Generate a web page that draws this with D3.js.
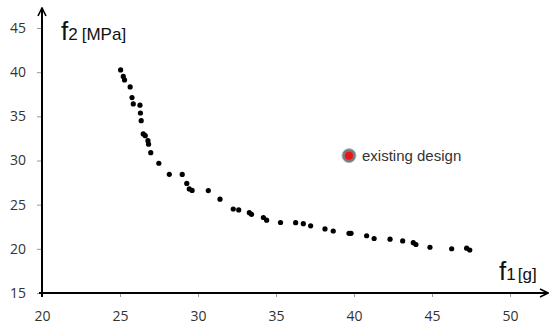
<!DOCTYPE html>
<html>
<head>
<meta charset="utf-8">
<script src="https://cdn.jsdelivr.net/npm/d3@7"></script>
<style>
  body { margin: 0; background: #fff; }
  svg text { font-family: "Liberation Sans", Arial, sans-serif; }
  svg .tick text { font-family: "Open Sans", "Liberation Sans", sans-serif; }
</style>
</head>
<body>
<div id="chart"></div>
<script>
// pareto front
const f1 = [25.04, 25.21, 25.29, 25.65, 25.77, 25.85, 26.28, 26.31, 26.36, 26.49,
            26.62, 26.79, 26.83, 26.97, 27.49, 28.16, 28.99, 29.28, 29.44, 29.62,
            30.66, 31.41, 32.26, 32.61, 33.29, 33.43, 34.19, 34.40, 35.29, 36.26,
            36.75, 37.22, 38.14, 38.67, 39.68, 39.81, 40.81, 41.29, 42.31, 43.12,
            43.80, 43.97, 44.87, 46.26, 47.22, 47.42];
const f2 = [40.25, 39.52, 39.12, 38.33, 37.12, 36.40, 36.26, 35.38, 34.51, 33.01,
            32.81, 32.25, 31.85, 30.89, 29.69, 28.44, 28.42, 27.40, 26.78, 26.61,
            26.59, 25.62, 24.51, 24.40, 24.09, 23.91, 23.55, 23.24, 22.98, 22.96,
            22.85, 22.61, 22.25, 22.02, 21.76, 21.76, 21.48, 21.17, 21.09, 20.89,
            20.70, 20.49, 20.18, 20.01, 20.07, 19.87];
const existing = { f1: 39.68, f2: 30.55, label: "existing design" };
const xTicks = [20, 25, 30, 35, 40, 45, 50];
const yTicks = [15, 20, 25, 30, 35, 40, 45];

const width = 550, height = 324;

const svg = d3.select("#chart").append("svg")
  .attr("width", width)
  .attr("height", height);

const x = d3.scaleLinear().domain([20, 50]).range([42, 510]);
const y = d3.scaleLinear().domain([15, 45]).range([293, 28]);

// tick marks + labels
const xAxis = svg.append("g")
  .attr("transform", "translate(0," + y(15) + ")")
  .call(d3.axisBottom(x).tickValues(xTicks).tickSize(4).tickPadding(14));
xAxis.select(".domain").remove();
xAxis.selectAll("line").attr("stroke", "#999");
xAxis.selectAll("text").attr("font-size", 14).attr("fill", "#333");

const yAxis = svg.append("g")
  .attr("transform", "translate(" + x(20) + ",0)")
  .call(d3.axisLeft(y).tickValues(yTicks).tickSize(5).tickPadding(11));
yAxis.select(".domain").remove();
yAxis.selectAll("line").attr("stroke", "#999");
yAxis.selectAll("text").attr("font-size", 14).attr("fill", "#333");

// axis lines with arrowheads
const defs = svg.append("defs");
defs.append("marker")
  .attr("id", "arrow")
  .attr("viewBox", "0 0 10 10")
  .attr("refX", 9).attr("refY", 5)
  .attr("markerWidth", 5).attr("markerHeight", 5)
  .attr("orient", "auto")
  .append("path")
    .attr("d", "M1,1 L9,5 L1,9")
    .attr("fill", "none")
    .attr("stroke", "#000")
    .attr("stroke-width", 1.6);

svg.append("line")
  .attr("x1", x(20) - 3).attr("y1", y(15))
  .attr("x2", 548).attr("y2", y(15))
  .attr("stroke", "#000").attr("stroke-width", 2)
  .attr("marker-end", "url(#arrow)");

svg.append("line")
  .attr("x1", x(20)).attr("y1", y(15) + 4)
  .attr("x2", x(20)).attr("y2", 8)
  .attr("stroke", "#000").attr("stroke-width", 2)
  .attr("marker-end", "url(#arrow)");

// axis titles
const yTitle = svg.append("text").attr("x", 61).attr("y", 40).attr("fill", "#111");
yTitle.append("tspan").attr("font-size", 26).text("f");
yTitle.append("tspan").attr("font-size", 17).text("2");
yTitle.append("tspan").attr("font-size", 17).attr("dx", 4).text("[MPa]");

const xTitle = svg.append("text").attr("x", 499).attr("y", 280).attr("fill", "#111");
xTitle.append("tspan").attr("font-size", 26).text("f");
xTitle.append("tspan").attr("font-size", 17).text("1");
xTitle.append("tspan").attr("font-size", 17).attr("dx", 2).text("[g]");

// pareto points
svg.append("g").selectAll("circle")
  .data(d3.zip(f1, f2))
  .enter()
  .append("circle")
    .attr("cx", d => x(d[0]))
    .attr("cy", d => y(d[1]))
    .attr("r", 2.6)
    .attr("fill", "#000");

// existing design marker
svg.append("circle")
  .attr("cx", x(existing.f1)).attr("cy", y(existing.f2))
  .attr("r", 7)
  .attr("fill", "#7a7a7a")
  .attr("stroke", "#b5b5b5").attr("stroke-width", 1);
svg.append("circle")
  .attr("cx", x(existing.f1)).attr("cy", y(existing.f2))
  .attr("r", 4)
  .attr("fill", "#e8141a");
svg.append("text")
  .attr("x", x(existing.f1) + 13).attr("y", y(existing.f2) + 5)
  .attr("font-size", 15)
  .attr("fill", "#333")
  .text(existing.label);
</script>
</body>
</html>
